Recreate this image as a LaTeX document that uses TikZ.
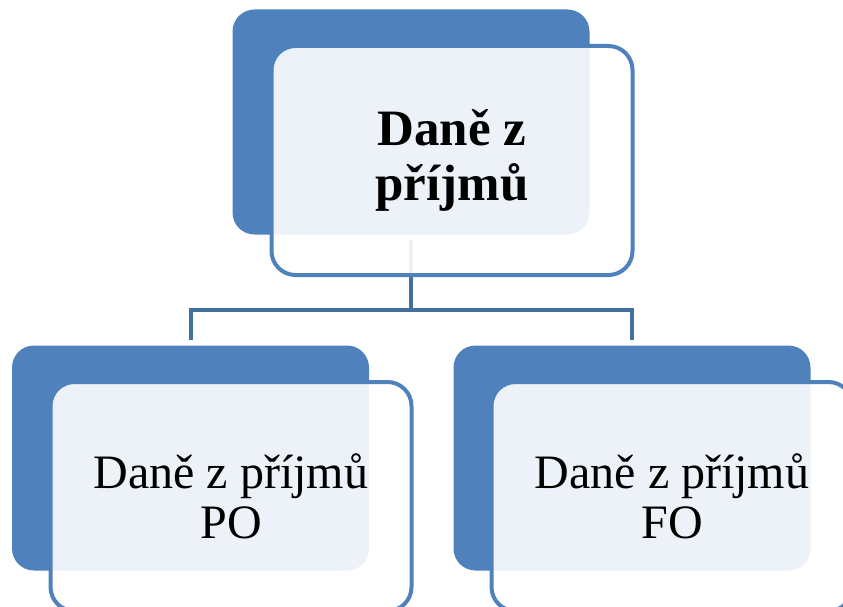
\documentclass[tikz,border=0pt]{standalone}
\usepackage{fontspec}
\setmainfont{Liberation Serif}

\definecolor{boxblue}{HTML}{4F81BD}
\definecolor{linkblue}{HTML}{41719C}

\begin{document}
\begin{tikzpicture}[x=1pt,y=-1pt,
  backbox/.style={rectangle,rounded corners=22pt,fill=boxblue,inner sep=0pt,
    minimum width=357pt,minimum height=225pt},
  frontbox/.style={rectangle,rounded corners=24pt,draw=boxblue,line width=4pt,
    fill=white,fill opacity=0.9,text opacity=1,align=center,inner sep=0pt,
    minimum width=361pt,minimum height=229pt},
  link/.style={draw=linkblue,line width=4pt,shorten <=5pt,shorten >=5pt}]
\useasboundingbox (0,0) rectangle (843,607);

%---------------------dark boxes behind------------------%
\node[backbox] (topback) at (411,122) {};
\node[backbox] (poback) at (190.5,458) {};
\node[backbox] (foback) at (632,458) {};

%---------------------tree lines------------------%
\draw[link] (topback.south) -- ++(0,75) -| (poback.north);
\draw[link] (topback.south) -- ++(0,75) -| (foback.north);

%---------------------front boxes with text------------------%
\node[frontbox,font=\fontsize{51}{55}\selectfont\bfseries] (topfront) at (452,160.5) {Daně z\\příjmů};
\node[frontbox,font=\fontsize{48}{50}\selectfont] (pofront) at (231,496.5) {Daně z příjmů\\PO};
\node[frontbox,font=\fontsize{48}{50}\selectfont] (fofront) at (672,496.5) {Daně z příjmů\\FO};
\end{tikzpicture}
\end{document}
